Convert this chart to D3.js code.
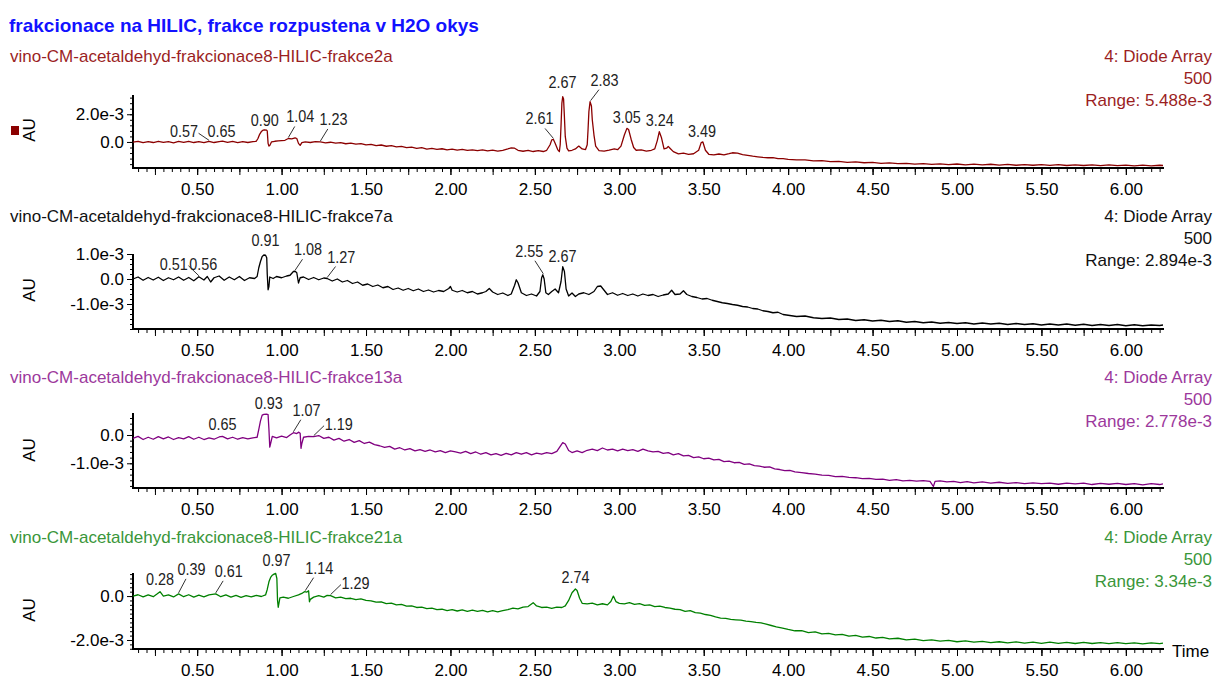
<!DOCTYPE html>
<html>
<head>
<meta charset="utf-8">
<script src="https://cdn.jsdelivr.net/npm/d3@7"></script>
<style>
  body { margin: 0; background: #fff; }
  svg { display: block; }
  text { font-family: "Liberation Sans", Arial, sans-serif; }
</style>
</head>
<body>
<svg width="1217" height="679"></svg>
<script>
// ---- data ----
const title = "frakcionace na HILIC, frakce rozpustena v H2O okys";
const sampleNames = [
  "vino-CM-acetaldehyd-frakcionace8-HILIC-frakce2a",
  "vino-CM-acetaldehyd-frakcionace8-HILIC-frakce7a",
  "vino-CM-acetaldehyd-frakcionace8-HILIC-frakce13a",
  "vino-CM-acetaldehyd-frakcionace8-HILIC-frakce21a"
];
const detector = "4: Diode Array";
const wavelength = "500";
const ranges = ["5.488e-3", "2.894e-3", "2.778e-3", "3.34e-3"];
const xTickValues = [0.5, 1.0, 1.5, 2.0, 2.5, 3.0, 3.5, 4.0, 4.5, 5.0, 5.5, 6.0];
const yTickValues = [[0, 2], [-1, 0, 1], [-1, 0], [-2, 0]];   // units of 1e-3 AU

// traces: [time (min), absorbance (1e-3 AU)]
const trace2a = [
  [0.12,-0.02],[0.15,0.05],[0.18,-0.05],[0.21,0.03],[0.24,-0.04],[0.27,0.05],[0.30,-0.03],[0.33,0.02],[0.36,-0.06],[0.39,0.04],
  [0.42,-0.03],[0.45,0.05],[0.48,-0.04],[0.51,0.03],[0.54,-0.05],[0.57,0.05],[0.60,-0.04],[0.63,0.03],[0.65,0.06],[0.68,-0.03],
  [0.71,0.04],[0.74,-0.05],[0.77,0.03],[0.80,-0.04],[0.83,0.03],[0.85,0.05],[0.86,0.25],[0.87,0.55],[0.88,0.75],[0.89,0.85],
  [0.90,0.88],[0.91,0.86],[0.915,0.8],[0.92,-0.1],[0.925,-0.3],[0.93,-0.25],[0.94,0.0],[0.96,0.05],[0.98,0.08],[1.00,0.1],
  [1.02,0.12],[1.04,0.25],[1.06,0.22],[1.08,0.3],[1.09,0.25],[1.10,-0.1],[1.11,-0.25],[1.12,-0.05],[1.14,0.0],[1.17,-0.04],
  [1.20,0.03],[1.23,0.0],[1.26,-0.06],[1.29,-0.02],[1.32,-0.09],[1.35,-0.05],[1.38,-0.13],[1.41,-0.09],[1.44,-0.16],[1.47,-0.12],
  [1.50,-0.21],[1.53,-0.17],[1.56,-0.27],[1.59,-0.22],[1.62,-0.31],[1.65,-0.26],[1.68,-0.36],[1.71,-0.32],[1.74,-0.41],[1.77,-0.37],
  [1.80,-0.46],[1.83,-0.41],[1.86,-0.51],[1.89,-0.46],[1.92,-0.53],[1.95,-0.49],[1.98,-0.57],[2.01,-0.52],[2.04,-0.59],[2.07,-0.54],
  [2.10,-0.61],[2.13,-0.57],[2.16,-0.63],[2.19,-0.57],[2.22,-0.64],[2.25,-0.59],[2.28,-0.66],[2.31,-0.6],[2.34,-0.5],[2.36,-0.42],
  [2.38,-0.45],[2.40,-0.6],[2.43,-0.67],[2.46,-0.61],[2.49,-0.69],[2.52,-0.63],[2.55,-0.69],[2.57,-0.6],[2.59,-0.2],[2.60,0.15],
  [2.61,0.18],[2.62,-0.1],[2.635,-0.55],[2.645,-0.7],[2.65,-0.2],[2.655,1.2],[2.66,2.8],[2.665,3.27],[2.67,3.1],[2.675,1.8],
  [2.68,0.4],[2.69,-0.45],[2.70,-0.65],[2.72,-0.6],[2.74,-0.5],[2.76,-0.3],[2.78,-0.5],[2.80,-0.55],[2.81,-0.2],[2.815,0.9],
  [2.82,2.2],[2.827,2.91],[2.835,2.6],[2.84,1.6],[2.85,0.5],[2.86,-0.3],[2.88,-0.62],[2.91,-0.66],[2.94,-0.59],[2.97,-0.5],
  [2.99,-0.56],[3.01,-0.3],[3.03,0.5],[3.045,0.98],[3.055,0.9],[3.07,0.2],[3.085,-0.4],[3.10,-0.6],[3.13,-0.57],[3.16,-0.66],
  [3.19,-0.6],[3.21,-0.5],[3.225,0.1],[3.237,0.74],[3.25,0.3],[3.265,-0.5],[3.28,-0.45],[3.29,-0.32],[3.30,-0.45],[3.32,-0.7],
  [3.35,-0.86],[3.38,-0.81],[3.41,-0.89],[3.44,-0.85],[3.47,-0.6],[3.485,-0.05],[3.495,0.0],[3.51,-0.6],[3.53,-0.89],[3.56,-0.93],
  [3.59,-0.87],[3.62,-0.93],[3.65,-0.85],[3.67,-0.78],[3.70,-0.8],[3.73,-0.91],[3.76,-0.97],[3.79,-1.03],[3.82,-1.07],[3.85,-1.11],
  [3.88,-1.14],[3.91,-1.13],[3.94,-1.21],[3.97,-1.21],[4.00,-1.25],[4.05,-1.3],[4.10,-1.29],[4.15,-1.37],[4.20,-1.35],[4.25,-1.42],
  [4.30,-1.4],[4.35,-1.47],[4.40,-1.44],[4.45,-1.5],[4.50,-1.48],[4.55,-1.55],[4.60,-1.51],[4.65,-1.56],[4.70,-1.54],[4.75,-1.6],
  [4.80,-1.56],[4.85,-1.62],[4.90,-1.58],[4.95,-1.63],[5.00,-1.59],[5.05,-1.65],[5.10,-1.6],[5.15,-1.66],[5.20,-1.61],[5.25,-1.67],
  [5.30,-1.62],[5.35,-1.68],[5.40,-1.63],[5.45,-1.68],[5.50,-1.64],[5.55,-1.69],[5.60,-1.64],[5.65,-1.7],[5.70,-1.65],[5.75,-1.7],
  [5.80,-1.66],[5.85,-1.71],[5.90,-1.66],[5.95,-1.71],[6.00,-1.67],[6.05,-1.72],[6.10,-1.67],[6.15,-1.72],[6.20,-1.68],[6.22,-1.7]
];
const trace7a = [
  [0.12,0.0],[0.15,0.08],[0.18,-0.05],[0.21,0.06],[0.24,-0.04],[0.27,0.07],[0.30,-0.06],[0.33,0.05],[0.36,-0.03],[0.39,0.08],
  [0.42,-0.05],[0.45,0.06],[0.48,-0.07],[0.51,0.09],[0.54,-0.04],[0.56,0.1],[0.58,-0.12],[0.60,0.05],[0.63,0.12],[0.66,-0.05],
  [0.69,0.08],[0.72,-0.03],[0.75,0.1],[0.78,-0.06],[0.81,0.05],[0.84,0.02],[0.855,0.1],[0.865,0.45],[0.875,0.7],[0.885,0.9],
  [0.895,0.96],[0.905,0.95],[0.912,0.85],[0.915,0.2],[0.92,-0.43],[0.925,-0.3],[0.93,0.08],[0.95,0.02],[0.97,0.1],[1.00,0.05],
  [1.03,0.12],[1.05,0.15],[1.07,0.3],[1.08,0.31],[1.09,0.25],[1.10,-0.16],[1.11,0.05],[1.13,0.08],[1.16,-0.02],[1.19,0.06],
  [1.22,-0.03],[1.25,0.04],[1.27,0.02],[1.30,-0.08],[1.33,0.0],[1.36,-0.12],[1.39,-0.06],[1.42,-0.18],[1.45,-0.12],[1.48,-0.25],
  [1.51,-0.2],[1.54,-0.3],[1.57,-0.24],[1.60,-0.35],[1.63,-0.3],[1.66,-0.42],[1.69,-0.36],[1.72,-0.45],[1.75,-0.38],[1.78,-0.47],
  [1.81,-0.4],[1.84,-0.5],[1.87,-0.44],[1.90,-0.52],[1.93,-0.46],[1.96,-0.5],[1.99,-0.38],[2.00,-0.3],[2.01,-0.45],[2.04,-0.52],
  [2.07,-0.46],[2.10,-0.55],[2.13,-0.5],[2.16,-0.6],[2.19,-0.55],[2.21,-0.5],[2.23,-0.38],[2.25,-0.52],[2.28,-0.62],[2.31,-0.56],
  [2.34,-0.66],[2.36,-0.6],[2.38,-0.25],[2.39,-0.03],[2.40,-0.15],[2.42,-0.55],[2.45,-0.66],[2.48,-0.6],[2.51,-0.68],[2.53,-0.5],
  [2.54,0.05],[2.547,0.17],[2.555,0.0],[2.565,-0.55],[2.58,-0.62],[2.60,-0.5],[2.62,-0.4],[2.64,-0.55],[2.655,-0.1],[2.665,0.49],
  [2.675,0.3],[2.685,-0.4],[2.70,-0.68],[2.72,-0.56],[2.74,-0.7],[2.76,-0.6],[2.79,-0.55],[2.82,-0.62],[2.85,-0.5],[2.87,-0.3],
  [2.89,-0.28],[2.91,-0.45],[2.93,-0.62],[2.96,-0.55],[2.99,-0.65],[3.02,-0.58],[3.05,-0.66],[3.08,-0.6],[3.11,-0.68],[3.14,-0.6],
  [3.17,-0.66],[3.20,-0.62],[3.23,-0.7],[3.26,-0.64],[3.29,-0.6],[3.31,-0.45],[3.33,-0.62],[3.36,-0.6],[3.38,-0.47],[3.40,-0.62],
  [3.43,-0.7],[3.46,-0.74],[3.49,-0.8],[3.52,-0.78],[3.55,-0.85],[3.58,-0.9],[3.61,-0.95],[3.64,-0.98],[3.67,-1.02],[3.70,-1.05],
  [3.73,-1.1],[3.76,-1.12],[3.79,-1.18],[3.82,-1.2],[3.85,-1.27],[3.88,-1.3],[3.91,-1.35],[3.94,-1.33],[3.97,-1.42],[4.00,-1.45],
  [4.05,-1.5],[4.10,-1.48],[4.15,-1.55],[4.20,-1.58],[4.25,-1.56],[4.30,-1.62],[4.35,-1.6],[4.40,-1.66],[4.45,-1.63],[4.50,-1.68],
  [4.55,-1.65],[4.60,-1.7],[4.65,-1.67],[4.70,-1.73],[4.75,-1.7],[4.80,-1.75],[4.85,-1.72],[4.90,-1.77],[4.95,-1.74],[5.00,-1.78],
  [5.05,-1.75],[5.10,-1.8],[5.15,-1.76],[5.20,-1.8],[5.25,-1.77],[5.30,-1.82],[5.35,-1.78],[5.40,-1.82],[5.45,-1.79],[5.50,-1.84],
  [5.55,-1.8],[5.60,-1.84],[5.65,-1.8],[5.70,-1.85],[5.75,-1.81],[5.80,-1.86],[5.85,-1.82],[5.90,-1.86],[5.95,-1.82],[6.00,-1.87],
  [6.05,-1.83],[6.10,-1.87],[6.15,-1.84],[6.20,-1.86],[6.22,-1.84]
];
const trace13a = [
  [0.12,-0.12],[0.15,-0.05],[0.18,-0.16],[0.21,-0.08],[0.24,-0.15],[0.27,-0.06],[0.30,-0.14],[0.33,-0.07],[0.36,-0.16],[0.39,-0.09],
  [0.42,-0.14],[0.45,-0.06],[0.48,-0.15],[0.51,-0.08],[0.54,-0.16],[0.57,-0.1],[0.60,-0.15],[0.63,-0.07],[0.65,-0.05],[0.68,-0.14],
  [0.71,-0.08],[0.74,-0.15],[0.77,-0.09],[0.80,-0.14],[0.83,-0.1],[0.855,-0.08],[0.865,0.2],[0.875,0.5],[0.885,0.7],[0.895,0.73],
  [0.91,0.74],[0.92,0.72],[0.925,0.2],[0.93,-0.43],[0.935,-0.3],[0.945,-0.05],[0.97,-0.1],[1.00,-0.04],[1.03,-0.09],[1.05,0.0],
  [1.07,0.08],[1.09,0.05],[1.10,0.1],[1.11,0.06],[1.115,-0.47],[1.12,-0.3],[1.13,-0.08],[1.16,-0.05],[1.19,-0.06],[1.22,-0.02],
  [1.25,-0.12],[1.28,-0.08],[1.31,-0.18],[1.34,-0.12],[1.37,-0.22],[1.40,-0.16],[1.43,-0.26],[1.46,-0.2],[1.49,-0.3],[1.52,-0.25],
  [1.55,-0.34],[1.58,-0.38],[1.61,-0.44],[1.64,-0.4],[1.67,-0.5],[1.70,-0.45],[1.73,-0.53],[1.76,-0.48],[1.79,-0.56],[1.82,-0.52],
  [1.85,-0.58],[1.88,-0.53],[1.91,-0.6],[1.94,-0.55],[1.97,-0.62],[2.00,-0.56],[2.03,-0.6],[2.06,-0.64],[2.09,-0.58],[2.12,-0.66],
  [2.15,-0.6],[2.18,-0.68],[2.21,-0.62],[2.24,-0.7],[2.27,-0.66],[2.30,-0.72],[2.33,-0.65],[2.36,-0.7],[2.39,-0.62],[2.42,-0.68],
  [2.45,-0.62],[2.48,-0.7],[2.51,-0.64],[2.54,-0.68],[2.57,-0.62],[2.60,-0.66],[2.63,-0.58],[2.65,-0.4],[2.665,-0.27],[2.68,-0.32],
  [2.70,-0.55],[2.72,-0.62],[2.75,-0.56],[2.78,-0.62],[2.81,-0.54],[2.84,-0.5],[2.87,-0.55],[2.90,-0.46],[2.93,-0.53],[2.96,-0.5],
  [2.99,-0.56],[3.02,-0.5],[3.05,-0.55],[3.08,-0.52],[3.11,-0.58],[3.14,-0.5],[3.17,-0.56],[3.20,-0.6],[3.23,-0.58],[3.26,-0.65],
  [3.29,-0.62],[3.32,-0.7],[3.35,-0.66],[3.38,-0.74],[3.41,-0.72],[3.44,-0.8],[3.47,-0.77],[3.50,-0.84],[3.53,-0.82],[3.56,-0.88],
  [3.59,-0.86],[3.62,-0.94],[3.65,-0.92],[3.68,-0.98],[3.71,-0.97],[3.74,-1.04],[3.77,-1.02],[3.80,-1.08],[3.83,-1.1],[3.86,-1.14],
  [3.89,-1.13],[3.92,-1.2],[3.95,-1.22],[3.98,-1.26],[4.01,-1.25],[4.04,-1.3],[4.08,-1.33],[4.12,-1.36],[4.16,-1.38],[4.20,-1.42],
  [4.24,-1.43],[4.28,-1.47],[4.32,-1.46],[4.36,-1.5],[4.40,-1.51],[4.44,-1.54],[4.48,-1.53],[4.52,-1.57],[4.56,-1.56],[4.60,-1.6],
  [4.64,-1.58],[4.68,-1.62],[4.72,-1.6],[4.76,-1.63],[4.80,-1.61],[4.84,-1.64],[4.86,-1.82],[4.87,-1.64],[4.90,-1.62],[4.94,-1.66],
  [4.98,-1.64],[5.02,-1.68],[5.06,-1.65],[5.10,-1.69],[5.15,-1.66],[5.20,-1.7],[5.25,-1.67],[5.30,-1.71],[5.35,-1.68],[5.40,-1.72],
  [5.45,-1.69],[5.50,-1.72],[5.55,-1.7],[5.60,-1.74],[5.65,-1.7],[5.70,-1.73],[5.75,-1.7],[5.80,-1.75],[5.85,-1.71],[5.90,-1.74],
  [5.95,-1.71],[6.00,-1.75],[6.05,-1.72],[6.10,-1.76],[6.15,-1.72],[6.20,-1.75],[6.22,-1.73]
];
const trace21a = [
  [0.12,0.0],[0.15,0.06],[0.18,-0.04],[0.21,0.05],[0.24,-0.03],[0.26,0.08],[0.28,0.2],[0.30,0.0],[0.33,0.05],[0.36,-0.04],
  [0.39,0.1],[0.42,-0.03],[0.45,0.06],[0.48,-0.05],[0.51,0.04],[0.54,-0.04],[0.57,0.05],[0.61,0.1],[0.64,-0.03],[0.67,0.05],
  [0.70,-0.05],[0.73,0.03],[0.76,-0.06],[0.79,0.02],[0.82,-0.04],[0.85,0.03],[0.88,-0.02],[0.905,0.05],[0.915,0.3],[0.925,0.65],
  [0.935,0.85],[0.945,0.95],[0.955,1.0],[0.965,1.03],[0.972,0.8],[0.976,-0.2],[0.98,-0.51],[0.985,-0.3],[0.99,-0.08],[1.01,-0.05],
  [1.04,-0.1],[1.07,-0.02],[1.10,0.05],[1.12,0.12],[1.135,0.2],[1.15,0.18],[1.16,0.24],[1.165,-0.26],[1.17,-0.15],[1.19,-0.05],
  [1.22,0.02],[1.25,-0.05],[1.27,0.03],[1.29,0.02],[1.32,-0.08],[1.35,-0.05],[1.38,-0.12],[1.41,-0.1],[1.44,-0.16],[1.47,-0.13],
  [1.50,-0.2],[1.53,-0.22],[1.56,-0.28],[1.59,-0.26],[1.62,-0.34],[1.65,-0.32],[1.68,-0.4],[1.71,-0.38],[1.74,-0.46],[1.77,-0.45],
  [1.80,-0.52],[1.83,-0.5],[1.86,-0.57],[1.89,-0.55],[1.92,-0.62],[1.95,-0.6],[1.98,-0.66],[2.01,-0.62],[2.04,-0.68],[2.07,-0.63],
  [2.10,-0.7],[2.13,-0.64],[2.16,-0.7],[2.19,-0.65],[2.22,-0.72],[2.25,-0.66],[2.28,-0.72],[2.31,-0.66],[2.34,-0.62],[2.37,-0.55],
  [2.40,-0.58],[2.43,-0.5],[2.46,-0.48],[2.49,-0.3],[2.51,-0.45],[2.54,-0.52],[2.57,-0.5],[2.60,-0.56],[2.63,-0.5],[2.66,-0.52],
  [2.68,-0.45],[2.70,-0.2],[2.72,0.15],[2.74,0.32],[2.75,0.25],[2.765,-0.1],[2.78,-0.33],[2.81,-0.36],[2.84,-0.32],[2.87,-0.4],
  [2.90,-0.35],[2.93,-0.4],[2.95,-0.25],[2.965,0.0],[2.98,-0.25],[3.00,-0.33],[3.03,-0.36],[3.06,-0.3],[3.09,-0.38],[3.12,-0.34],
  [3.15,-0.42],[3.18,-0.4],[3.21,-0.48],[3.24,-0.46],[3.27,-0.52],[3.30,-0.55],[3.33,-0.6],[3.36,-0.62],[3.39,-0.7],[3.42,-0.66],
  [3.45,-0.75],[3.48,-0.78],[3.51,-0.84],[3.54,-0.88],[3.57,-0.95],[3.60,-1.0],[3.63,-1.02],[3.66,-1.06],[3.69,-1.08],[3.72,-1.1],
  [3.75,-1.14],[3.78,-1.16],[3.81,-1.2],[3.84,-1.22],[3.87,-1.28],[3.90,-1.34],[3.93,-1.4],[3.96,-1.45],[4.00,-1.52],[4.04,-1.58],
  [4.08,-1.57],[4.12,-1.66],[4.16,-1.63],[4.20,-1.72],[4.24,-1.7],[4.28,-1.77],[4.32,-1.74],[4.36,-1.82],[4.40,-1.79],[4.44,-1.87],
  [4.48,-1.84],[4.52,-1.91],[4.56,-1.88],[4.60,-1.95],[4.65,-1.92],[4.70,-1.99],[4.75,-1.96],[4.80,-2.03],[4.85,-1.99],[4.90,-2.05],
  [4.95,-2.02],[5.00,-2.08],[5.05,-2.04],[5.10,-2.1],[5.15,-2.06],[5.20,-2.12],[5.25,-2.08],[5.30,-2.13],[5.35,-2.09],[5.40,-2.14],
  [5.45,-2.1],[5.50,-2.15],[5.55,-2.1],[5.60,-2.15],[5.65,-2.11],[5.70,-2.16],[5.75,-2.11],[5.80,-2.16],[5.85,-2.12],[5.90,-2.17],
  [5.95,-2.12],[6.00,-2.17],[6.05,-2.13],[6.10,-2.18],[6.15,-2.13],[6.20,-2.17],[6.22,-2.14]
];
const traces = [trace2a, trace7a, trace13a, trace21a];

// labelled peaks (retention times, min)
const peaks = [
  ["0.57", "0.65", "0.90", "1.04", "1.23", "2.61", "2.67", "2.83", "3.05", "3.24", "3.49"],
  ["0.51", "0.56", "0.91", "1.08", "1.27", "2.55", "2.67"],
  ["0.65", "0.93", "1.07", "1.19"],
  ["0.28", "0.39", "0.61", "0.97", "1.14", "1.29", "2.74"]
];

// ---- layout / style ----
const peakNudge = [
  [[-25,4],[-1,4],[0,4],[12,16],[13,17],[-14,15],[-1,9],[14,16],[-1,5],[0,6],[0,5]],
  [[-25,7],[-4,7],[-1,9],[13,16],[14,16],[-14,18],[-1,5]],
  [[0,6],[-1,6],[13,17],[25,7]],
  [[0,7],[13,19],[13,17],[0,7],[14,18],[25,7],[0,6]]
];
const layout = [
  {label: 62,  top: 95,  bottom: 168, yDom: [-1.88, 3.39], minor: 0.4},
  {label: 222, top: 254, bottom: 329, yDom: [-2.0, 1.0],   minor: 0.2},
  {label: 383, top: 413, bottom: 488, yDom: [-1.873, 0.777], minor: 0.2},
  {label: 543, top: 573, bottom: 649, yDom: [-2.41, 1.05], minor: 0.2}
];
const lineColors = ["#8b0000", "#000000", "#800080", "#008000"];
const textColors = ["#9b1f1f", "#111111", "#9c389c", "#3a963a"];

const svg = d3.select("svg");
const x = d3.scaleLinear().domain([0.12, 6.22]).range([133, 1163]);

function squash(sel, k) {
  sel.each(function() {
    const w = this.getComputedTextLength();
    d3.select(this).attr("textLength", w * k).attr("lengthAdjust", "spacingAndGlyphs");
  });
}

svg.append("text")
  .attr("x", 9).attr("y", 32)
  .attr("fill", "#1212ff")
  .style("font-size", "19px").style("font-weight", "bold")
  .text(title);

const minorX = d3.range(3, 125).map(k => k / 20);
const midX = d3.range(1, 25).map(k => k / 4);

layout.forEach((L, i) => {
  const y = d3.scaleLinear().domain(L.yDom).range([L.bottom, L.top]);
  const g = svg.append("g");

  g.append("text")
    .attr("x", 10).attr("y", L.label)
    .attr("fill", textColors[i])
    .style("font-size", "17px")
    .text(sampleNames[i]);

  [detector, wavelength, "Range: " + ranges[i]].forEach((s, k) => {
    g.append("text")
      .attr("x", 1212).attr("y", L.label + 22 * k)
      .attr("text-anchor", "end")
      .attr("fill", textColors[i])
      .style("font-size", "17px")
      .text(s);
  });

  // AU label
  g.append("text")
    .attr("transform", `translate(35, ${130 + 160 * i}) rotate(-90)`)
    .attr("text-anchor", "middle")
    .style("font-size", "17px")
    .text("AU");

  // x axis ticks
  g.append("g")
    .attr("transform", `translate(0, ${L.bottom})`)
    .call(d3.axisBottom(x).tickValues(minorX).tickSize(4).tickFormat(""))
    .call(a => a.select(".domain").remove());
  g.append("g")
    .attr("transform", `translate(0, ${L.bottom})`)
    .call(d3.axisBottom(x).tickValues(midX).tickSize(7).tickFormat(""))
    .call(a => a.select(".domain").remove());
  const xa = g.append("g")
    .attr("transform", `translate(0, ${L.bottom})`)
    .call(d3.axisBottom(x).tickValues(xTickValues).tickSize(7).tickPadding(8).tickFormat(d3.format(".2f")));
  xa.select(".domain").remove();
  xa.selectAll("text").style("font-size", "17px").attr("fill", "#000")
    .style("font-family", "'Liberation Sans', Arial, sans-serif");

  // y axis ticks
  const s = L.minor;
  const minorY = d3.range(Math.ceil(L.yDom[0] / s), Math.floor(L.yDom[1] / s) + 1).map(k => +(k * s).toFixed(2));
  g.append("g")
    .attr("transform", "translate(133, 0)")
    .call(d3.axisLeft(y).tickValues(minorY).tickSize(3).tickFormat(""))
    .call(a => a.select(".domain").remove());
  const ya = g.append("g")
    .attr("transform", "translate(133, 0)")
    .call(d3.axisLeft(y).tickValues(yTickValues[i]).tickSize(6).tickPadding(3)
      .tickFormat(v => v === 0 ? "0.0" : v.toFixed(1) + "e-3"));
  ya.select(".domain").remove();
  ya.selectAll("text").style("font-size", "17px").attr("fill", "#000")
    .style("font-family", "'Liberation Sans', Arial, sans-serif");

  // axis lines
  g.append("line").attr("x1", 133).attr("x2", 133).attr("y1", L.top).attr("y2", L.bottom + 1)
    .attr("stroke", "#000").attr("stroke-width", 2);
  g.append("line").attr("x1", 132).attr("x2", 1164).attr("y1", L.bottom).attr("y2", L.bottom)
    .attr("stroke", "#000").attr("stroke-width", 2);

  // trace
  g.append("path")
    .datum(traces[i])
    .attr("fill", "none")
    .attr("stroke", lineColors[i])
    .attr("stroke-width", 1.3)
    .attr("stroke-linejoin", "round")
    .attr("d", d3.line().x(d => x(d[0])).y(d => y(d[1])));

  // peak labels
  peaks[i].forEach((lab, k) => {
    const t = +lab;
    const near = traces[i].filter(d => Math.abs(d[0] - t) <= 0.012);
    const v = d3.max(near, d => d[1]);
    const ax = x(t), ay = y(v);
    const [dx, dy] = peakNudge[i][k];
    const tx = ax + dx, ty = ay - dy;
    const txt = g.append("text")
      .attr("x", tx).attr("y", ty)
      .attr("text-anchor", "middle")
      .attr("fill", "#222")
      .style("font-size", "16px")
      .text(lab);
    squash(txt, 0.9);
    if (Math.abs(dx) >= 10) {
      const w = txt.node().getComputedTextLength() * 0.9;
      const side = dx > 0 ? -1 : 1;
      let ex, ey;
      if (dy >= 12) { ex = tx + side * (w / 2 - 7); ey = ty + 4; }
      else { ex = tx + side * (w / 2 + 2); ey = ty - 4; }
      g.append("line")
        .attr("x1", ax).attr("y1", ay - 1)
        .attr("x2", ex).attr("y2", ey)
        .attr("stroke", "#333").attr("stroke-width", 1);
    }
  });
});

// legend marker for the first trace
svg.append("rect").attr("x", 11).attr("y", 126).attr("width", 8).attr("height", 9).attr("fill", lineColors[0]);

svg.append("text")
  .attr("x", 1172).attr("y", 657)
  .style("font-size", "17px")
  .text("Time");
</script>
</body>
</html>
